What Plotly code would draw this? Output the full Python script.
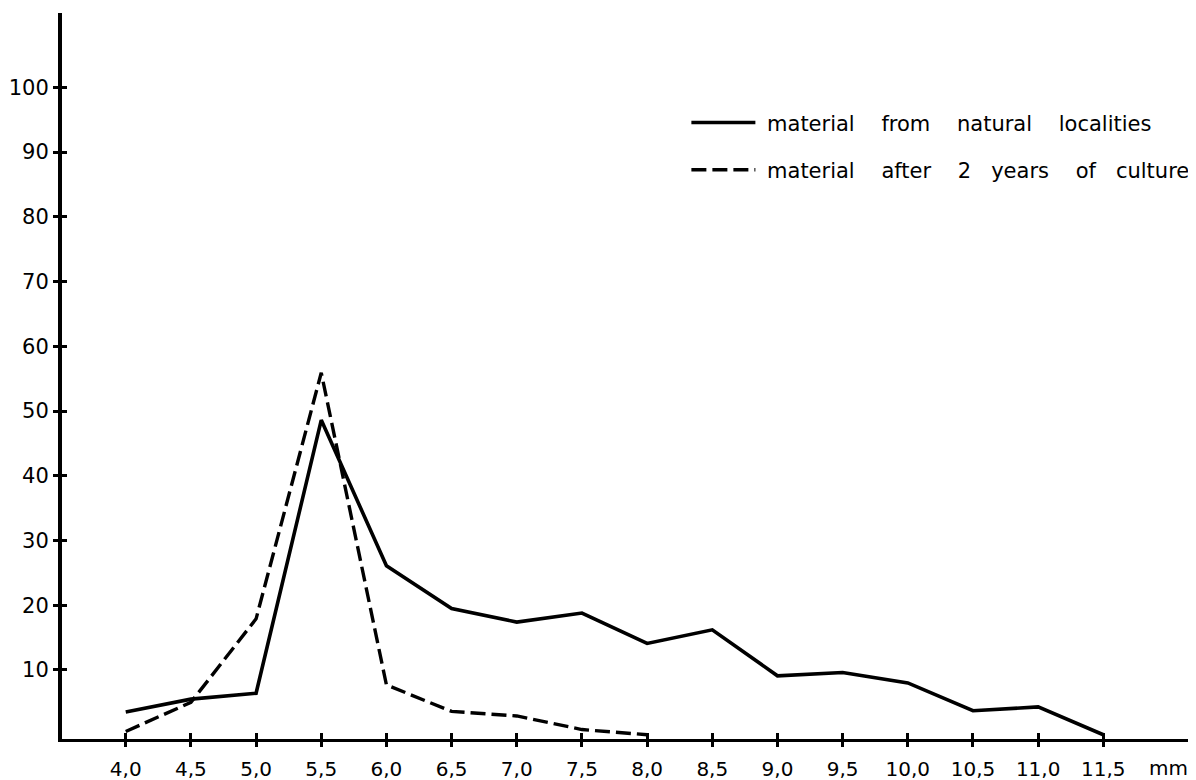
import plotly.graph_objects as go

# ---- data ----
sizes_mm = [4.0, 4.5, 5.0, 5.5, 6.0, 6.5, 7.0, 7.5, 8.0, 8.5, 9.0, 9.5, 10.0, 10.5, 11.0, 11.5]
natural_pct = [3.5, 5.5, 6.4, 48.6, 26.1, 19.5, 17.4, 18.8, 14.1, 16.2, 9.1, 9.6, 8.0, 3.7, 4.3, 0.0]
culture_sizes = [4.0, 4.5, 5.0, 5.5, 6.0, 6.5, 7.0, 7.5, 8.0]
culture_pct = [0.5, 5.0, 17.9, 55.9, 7.7, 3.6, 2.9, 0.8, 0.0]

x_tickvals = [4.0, 4.5, 5.0, 5.5, 6.0, 6.5, 7.0, 7.5, 8.0, 8.5, 9.0, 9.5, 10.0, 10.5, 11.0, 11.5]
x_ticktext = ["4,0", "4,5", "5,0", "5,5", "6,0", "6,5", "7,0", "7,5", "8,0", "8,5",
              "9,0", "9,5", "10,0", "10,5", "11,0", "11,5"]
y_tickvals = [10, 20, 30, 40, 50, 60, 70, 80, 90, 100]
y_ticktext = ["10", "20", "30", "40", "50", "60", "70", "80", "90", "100"]
unit_label = "mm"
N = "\u00a0"
legend_natural = N + "material" + N * 4 + "from" + N * 4 + "natural" + N * 4 + "localities"
legend_culture = (N + "material" + N * 4 + "after" + N * 4 + "2" + N * 3 + "years"
                  + N * 4 + "of" + N * 3 + "culture")

X_RANGE = [3.511, 12.211]
Y_RANGE = [-0.66, 111.47]
FONT = "DejaVu Sans"

fig = go.Figure()
fig.add_trace(go.Scatter(x=sizes_mm, y=natural_pct, mode="lines", name=legend_natural,
                         line=dict(color="black", width=3.6), legendgroup="a"))
fig.add_trace(go.Scatter(x=culture_sizes, y=culture_pct, mode="lines", name=legend_culture,
                         line=dict(color="black", width=3.4, dash="15px,6px"), legendgroup="b"))
# invisible trace on overlay axes (used for the inner half of crossing ticks)
fig.add_trace(go.Scatter(x=[X_RANGE[0]], y=[Y_RANGE[0]], xaxis="x2", yaxis="y2",
                         mode="markers", marker=dict(opacity=0), showlegend=False,
                         hoverinfo="skip"))

fig.update_layout(
    width=1188, height=772,
    margin=dict(l=54, r=0, t=5, b=41),
    paper_bgcolor="white", plot_bgcolor="white",
    font=dict(family=FONT, color="black", size=21),
    xaxis=dict(range=X_RANGE, tickvals=x_tickvals, ticktext=x_ticktext,
               showgrid=False, zeroline=False, showline=True, linecolor="black",
               linewidth=3, ticks="outside", ticklen=5, tickwidth=2.5, tickcolor="black",
               tickfont=dict(size=20, family=FONT), ticklabelstandoff=5),
    yaxis=dict(range=Y_RANGE, tickvals=y_tickvals, ticktext=y_ticktext,
               showgrid=False, zeroline=False, showline=True, linecolor="black",
               linewidth=4, ticks="outside", ticklen=5, tickwidth=2.5, tickcolor="black",
               tickfont=dict(size=21, family=FONT), ticklabelstandoff=0),
    xaxis2=dict(range=X_RANGE, tickvals=x_tickvals, overlaying="x", anchor="y2",
                showticklabels=False, showgrid=False, zeroline=False, showline=False,
                ticks="inside", ticklen=6, tickwidth=2.5, tickcolor="black"),
    yaxis2=dict(range=Y_RANGE, tickvals=y_tickvals, overlaying="y", anchor="x2",
                showticklabels=False, showgrid=False, zeroline=False, showline=False,
                ticks="inside", ticklen=5, tickwidth=2.5, tickcolor="black"),
    legend=dict(x=0.5506, y=0.877, xanchor="left", yanchor="top",
                font=dict(size=21, family=FONT), itemwidth=64,
                tracegroupgap=17, bgcolor="rgba(0,0,0,0)"),
    showlegend=True,
    annotations=[dict(text=unit_label, xref="x", yref="paper", x=12.0, y=-0.040,
                      showarrow=False, xanchor="center", yanchor="middle",
                      font=dict(size=20, family=FONT))],
)

fig.write_html("out.html")
